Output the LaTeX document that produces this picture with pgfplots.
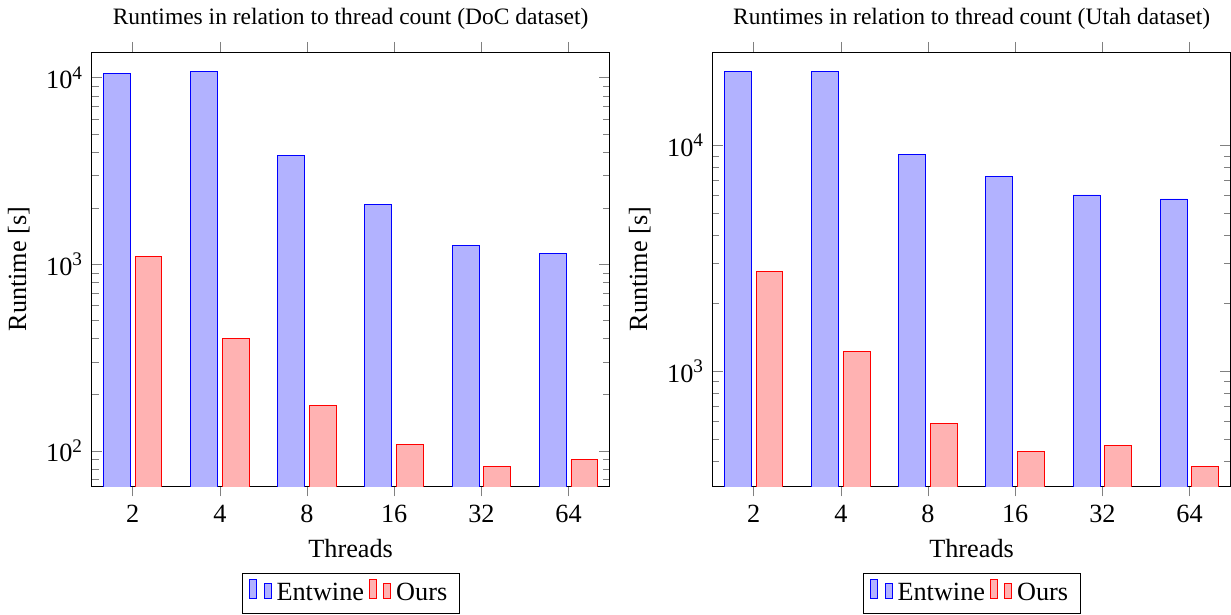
\documentclass[border=0pt]{standalone}
\usepackage{fontspec}
\setmainfont{Liberation Serif}
\usepackage{pgfplots}
\pgfplotsset{compat=1.18}

\newcommand{\elf}{\fontsize{10.95}{13.6}\selectfont}

\pgfplotsset{
  rt/.style={
    ybar=2pt,
    bar width=11.2pt,
    scale only axis,
    width=216pt,
    height=181pt,
    xmin=-0.47, xmax=5.47,
    xtick=data,
    xticklabels={2,4,8,16,32,64},
    yticklabel={10\textsuperscript{\pgfmathparse{int(round(\tick))}\pgfmathresult}},
    tick label style={font=\elf},
    label style={font=\elf},
    xlabel={Threads},
    ylabel={Runtime [s]},
    title style={font=\fontsize{9.8}{12}\selectfont},
    legend columns=2,
    legend style={at={(0.5,-0.2)}, anchor=north, font=\elf},
  }
}

\begin{document}
\begin{tikzpicture}
\begin{axis}[ymode=log, log basis y=10, rt,
  title={Runtimes in relation to thread count (DoC dataset)},
  ymin=64.7, ymax=13700]
\addplot coordinates {(0,10550) (1,10730) (2,3838) (3,2093) (4,1256) (5,1147)};
\addplot coordinates {(0,1096) (1,400) (2,175) (3,108) (4,82.6) (5,89.4)};
\legend{Entwine, Ours}
\end{axis}

\begin{axis}[ymode=log, log basis y=10, rt, at={(259pt,0)},
  title={Runtimes in relation to thread count (Utah dataset)},
  ymin=310, ymax=25930]
\addplot coordinates {(0,21240) (1,21240) (2,9117) (3,7299) (4,6040) (5,5799)};
\addplot coordinates {(0,2757) (1,1228) (2,586) (3,443) (4,468) (5,380)};
\legend{Entwine, Ours}
\end{axis}
\end{tikzpicture}
\end{document}
